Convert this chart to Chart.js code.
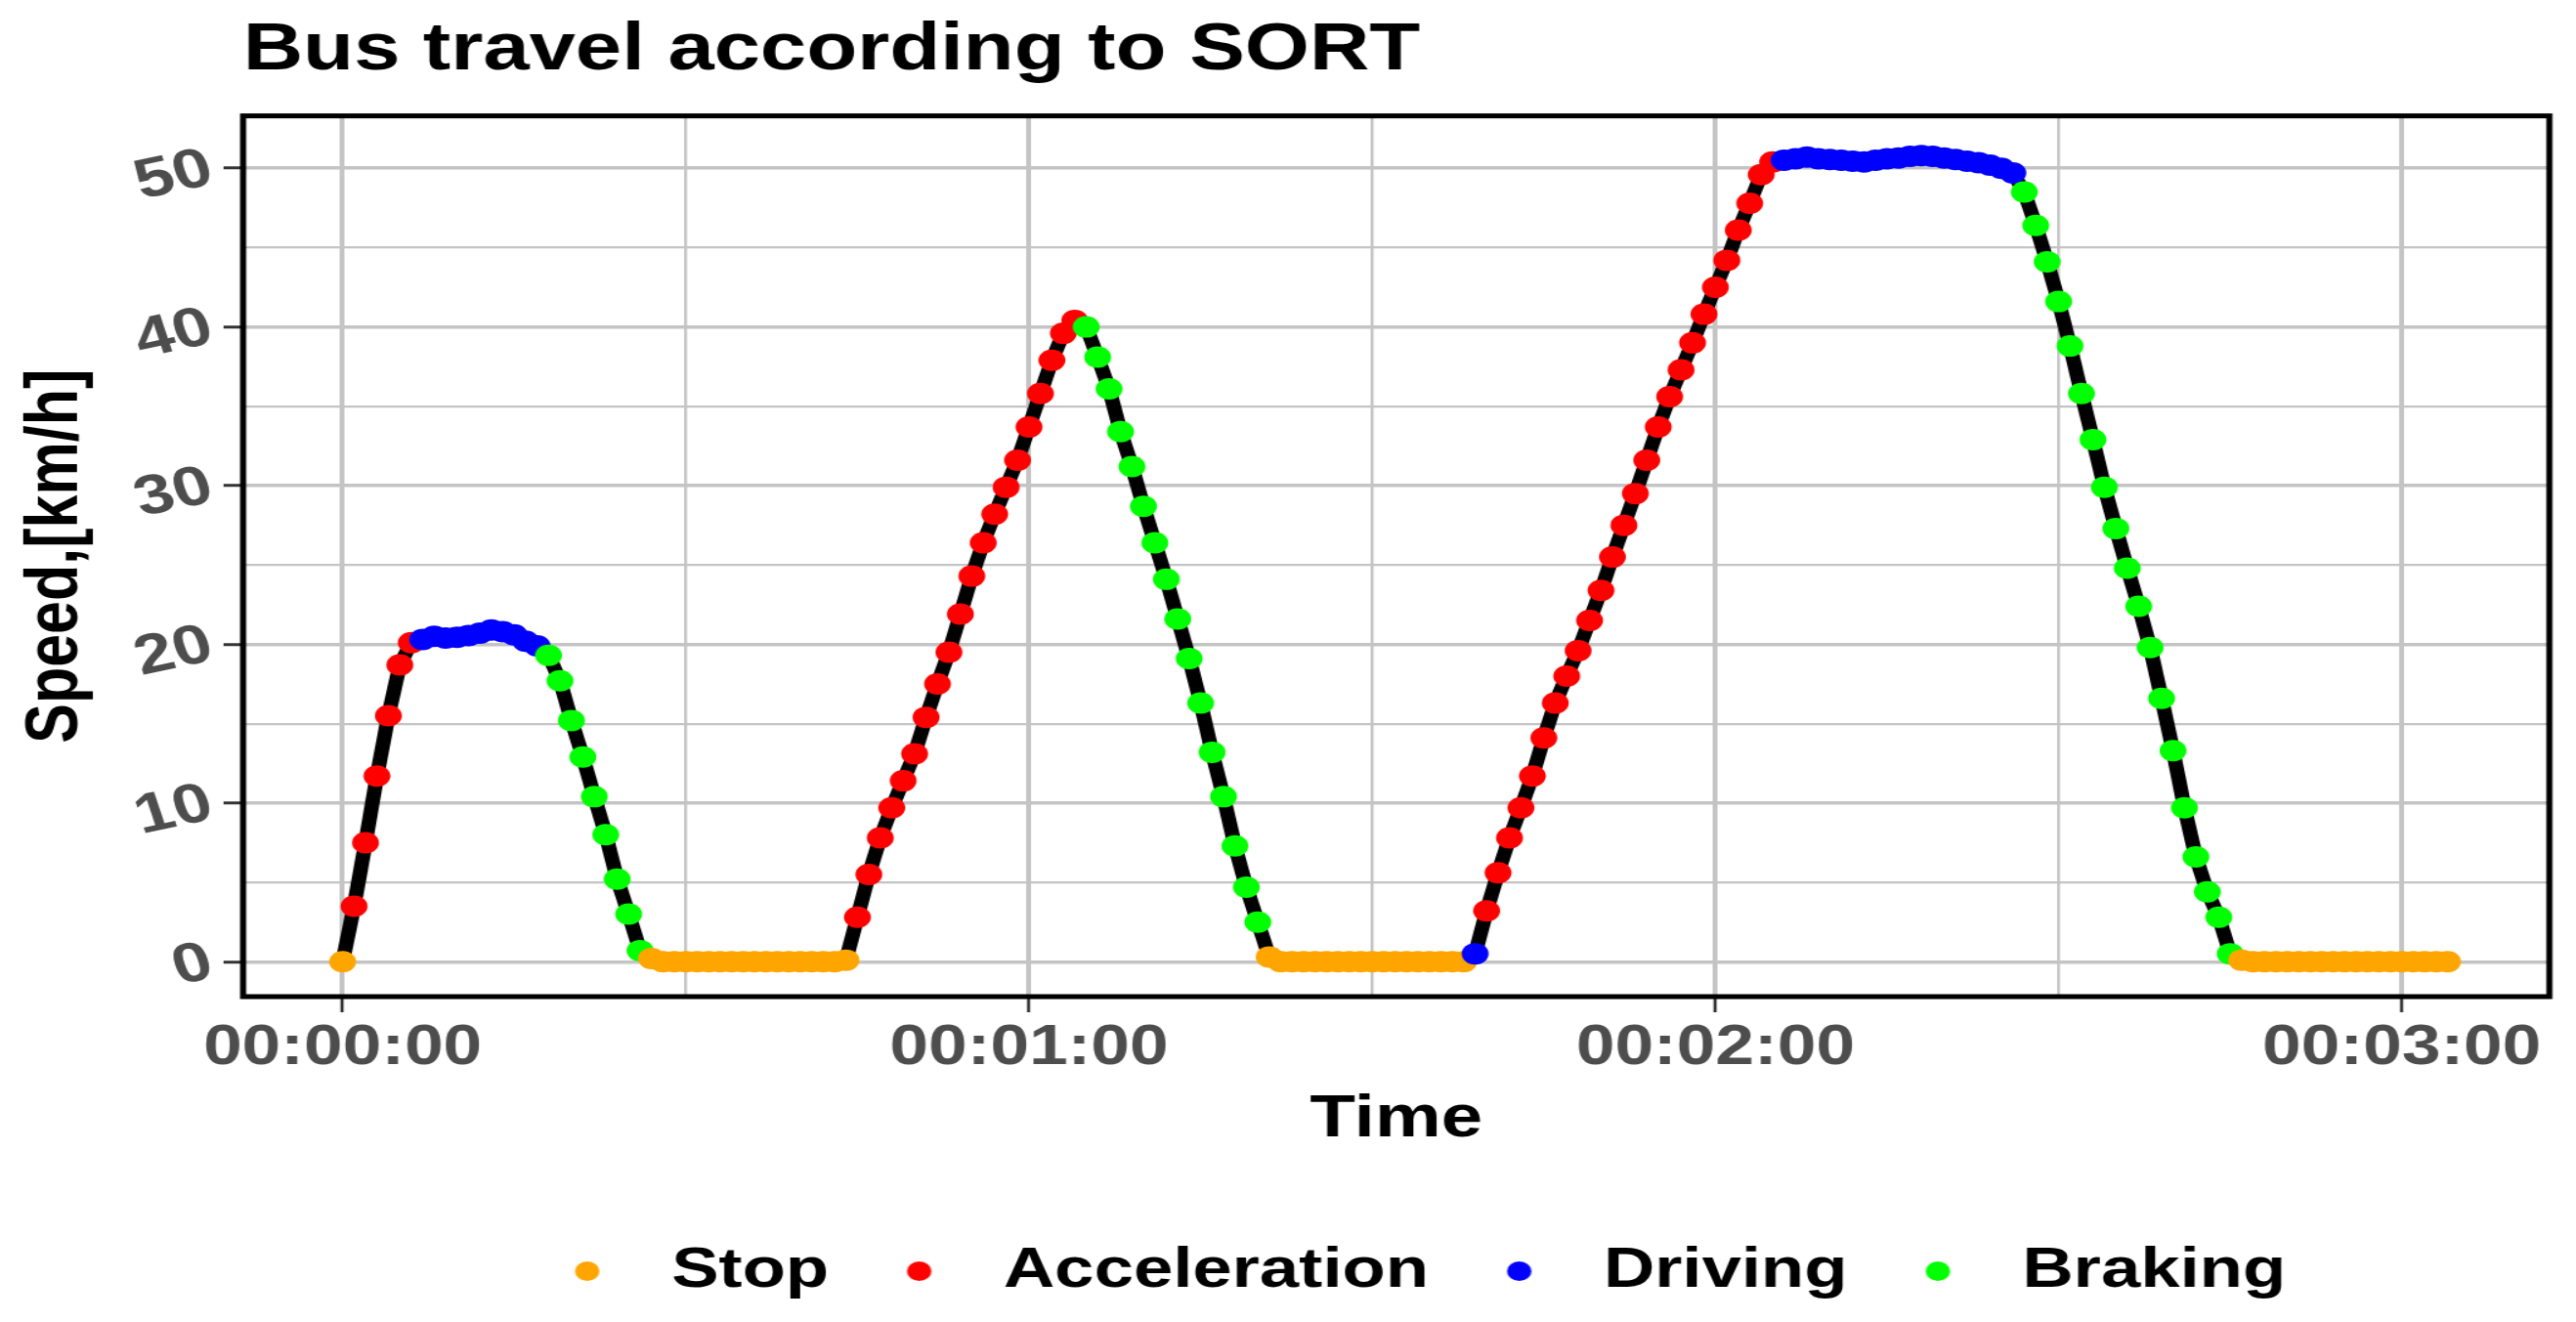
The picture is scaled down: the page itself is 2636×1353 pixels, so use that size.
<!DOCTYPE html>
<html>
<head>
  <title>Bus travel according to SORT</title>
  <style>
    html, body { margin: 0; padding: 0; background: #fff; overflow: hidden; }
    /* the original picture is stretched sideways, so draw narrower and stretch it */
    #wrap { width: 2109px; height: 1353px; transform: scaleX(1.25); transform-origin: 0 0; }
  </style>
</head>
<body>
  <div id="wrap"><canvas id="chart"></canvas></div>

  <script src="https://cdn.jsdelivr.net/npm/chart.js"></script>
  <script>
    // phases and their colours
    const phases = ['Stop', 'Acceleration', 'Driving', 'Braking'];
    const phaseColors = ['#FFA500', '#FF0000', '#0000FF', '#00FF00'];

    // phase of each second, as runs: [phase index, number of samples]
    const phaseRuns = [
      [0, 1], [1, 6], [2, 11], [3, 9], [0, 18], [1, 20], [3, 16],
      [0, 18], [2, 1], [1, 26], [2, 21], [3, 19], [0, 19]
    ];

    // speed in km/h, one sample per second from 00:00:00
    const speed = [
      0,
      3.5, 7.5, 11.7, 15.5, 18.7, 20.1,
      20.3, 20.5, 20.4, 20.45, 20.55, 20.7, 20.9, 20.8, 20.6, 20.2, 19.9,
      19.3, 17.7, 15.2, 12.9, 10.4, 8.0, 5.2, 3.0, 0.7,
      0.2, 0, 0, 0, 0, 0, 0, 0, 0, 0, 0, 0, 0, 0, 0, 0, 0, 0.1,
      2.8, 5.5, 7.8, 9.7, 11.4, 13.1, 15.4, 17.5, 19.5, 21.9,
      24.3, 26.4, 28.2, 29.9, 31.6, 33.7, 35.8, 37.9, 39.6, 40.4,
      40.0, 38.1, 36.1, 33.4, 31.2, 28.7, 26.4, 24.1, 21.6, 19.1,
      16.3, 13.2, 10.4, 7.3, 4.7, 2.5,
      0.3, 0, 0, 0, 0, 0, 0, 0, 0, 0, 0, 0, 0, 0, 0, 0, 0, 0,
      0.5,
      3.2, 5.6, 7.8, 9.7, 11.7, 14.1, 16.3, 18.0, 19.6, 21.5, 23.4, 25.5, 27.5,
      29.5, 31.6, 33.7, 35.6, 37.3, 39.0, 40.8, 42.5, 44.2, 46.1, 47.8, 49.6, 50.4,
      50.5, 50.6, 50.7, 50.6, 50.55, 50.5, 50.45, 50.4, 50.5, 50.6, 50.65,
      50.75, 50.8, 50.75, 50.65, 50.55, 50.45, 50.35, 50.2, 50.0, 49.7,
      48.5, 46.4, 44.1, 41.6, 38.8, 35.8, 32.9, 29.9, 27.3, 24.8,
      22.4, 19.8, 16.6, 13.3, 9.7, 6.6, 4.4, 2.8, 0.5,
      0.1, 0, 0, 0, 0, 0, 0, 0, 0, 0, 0, 0, 0, 0, 0, 0, 0, 0, 0
    ];

    // axis ticks (grid lines) and the labels shown on them
    const xTicks = [0, 30, 60, 90, 120, 150, 180];
    const xTickLabels = { 0: '00:00:00', 60: '00:01:00', 120: '00:02:00', 180: '00:03:00' };
    const yTicks = [0, 5, 10, 15, 20, 25, 30, 35, 40, 45, 50];
    const yTickLabels = { 0: '0', 10: '10', 20: '20', 30: '30', 40: '40', 50: '50' };

    Chart.defaults.font.family = "'Liberation Sans', Arial, sans-serif";

    // colour of every point, from the phase runs
    const pointColors = [];
    phaseRuns.forEach(function(run) {
      for (let i = 0; i < run[1]; i++) pointColors.push(phaseColors[run[0]]);
    });

    const points = speed.map(function(v, i) { return { x: i, y: v }; });

    // small round dot used as legend key
    function dot(color) {
      const c = document.createElement('canvas');
      c.width = 22; c.height = 22;
      const g = c.getContext('2d');
      g.fillStyle = color;
      g.beginPath();
      g.arc(11, 11, 10, 0, Math.PI * 2);
      g.fill();
      return c;
    }

    // black frame round the panel
    const panelBorder = {
      id: 'panelBorder',
      afterLayout(chart) {
        // legend sits a little right of the panel centre
        chart.legend.left += 13;
        chart.legend.right += 13;
      },
      afterDraw(chart) {
        const a = chart.chartArea;
        const ctx = chart.ctx;
        ctx.save();
        ctx.strokeStyle = '#000';
        ctx.lineWidth = 5;
        ctx.strokeRect(a.left, a.top, a.right - a.left, a.bottom - a.top);
        ctx.restore();
      }
    };

    const tickGrey = '#4D4D4D';
    const gridGrey = '#C4C4C4';

    new Chart(document.getElementById('chart'), {
      type: 'line',
      data: {
        datasets: [{
          label: 'Speed',
          data: points,
          borderColor: '#000',
          borderWidth: 12,
          tension: 0,
          pointRadius: 11,
          pointBorderWidth: 0,
          pointBackgroundColor: pointColors,
          pointBorderColor: pointColors
        }]
      },
      options: {
        responsive: true,
        maintainAspectRatio: false,
        animation: false,
        events: [],
        layout: { padding: { left: 0, right: 22, top: 0, bottom: 13 } },
        plugins: {
          title: {
            display: true,
            text: 'Bus travel according to SORT',
            align: 'start',
            fullSize: false,
            color: '#000',
            font: { size: 68, weight: 'bold' },
            padding: { top: 11, bottom: 26 }
          },
          legend: {
            position: 'bottom',
            fullSize: false,
            labels: {
              usePointStyle: true,
              pointStyleWidth: 80,
              boxHeight: 17,
              padding: 34,
              color: '#000',
              font: { size: 58, weight: 'bold' },
              generateLabels: function() {
                return phases.map(function(p, i) {
                  return {
                    text: p,
                    fillStyle: phaseColors[i],
                    strokeStyle: phaseColors[i],
                    lineWidth: 0,
                    pointStyle: dot(phaseColors[i]),
                    hidden: false,
                    datasetIndex: 0
                  };
                });
              }
            }
          },
          tooltip: { enabled: false }
        },
        scales: {
          x: {
            type: 'linear',
            min: -8.7,
            max: 192.9,
            afterBuildTicks: function(axis) {
              axis.ticks = xTicks.map(function(v) { return { value: v }; });
            },
            afterFit: function(axis) { axis.height = 218; },
            border: { display: false },
            grid: {
              color: gridGrey,
              lineWidth: function(c) { return c.tick && c.tick.value % 60 === 0 ? 4 : 2.4; },
              tickColor: function(c) { return c.tick && c.tick.value % 60 === 0 ? '#333333' : 'rgba(0,0,0,0)'; },
              tickLength: 16,
              tickWidth: 2.6
            },
            ticks: {
              autoSkip: false,
              maxRotation: 0,
              padding: 3,
              color: tickGrey,
              font: { size: 57, weight: 'bold' },
              callback: function(v) { return xTickLabels[v] || ''; }
            },
            title: {
              display: true,
              text: 'Time',
              color: '#000',
              font: { size: 61, weight: 'bold' },
              padding: { top: 0, bottom: 55 }
            }
          },
          y: {
            type: 'linear',
            min: -2.2,
            max: 53.3,
            afterBuildTicks: function(axis) {
              axis.ticks = yTicks.map(function(v) { return { value: v }; });
            },
            afterFit: function(axis) { axis.width = 199; },
            border: { display: false },
            grid: {
              color: gridGrey,
              lineWidth: function(c) { return c.tick && c.tick.value % 10 === 0 ? 3.5 : 2.2; },
              tickColor: function(c) { return c.tick && c.tick.value % 10 === 0 ? '#333333' : 'rgba(0,0,0,0)'; },
              tickLength: 16,
              tickWidth: 3
            },
            ticks: {
              autoSkip: false,
              minRotation: 15,
              maxRotation: 15,
              padding: 10,
              color: tickGrey,
              font: { size: 57, weight: 'bold' },
              callback: function(v) { return yTickLabels[v] || ''; }
            },
            title: {
              display: true,
              text: 'Speed,[km/h]',
              color: '#000',
              font: { size: 61, weight: 'bold' },
              padding: { top: 10, bottom: 0 }
            }
          }
        }
      },
      plugins: [panelBorder]
    });
  </script>
</body>
</html>
